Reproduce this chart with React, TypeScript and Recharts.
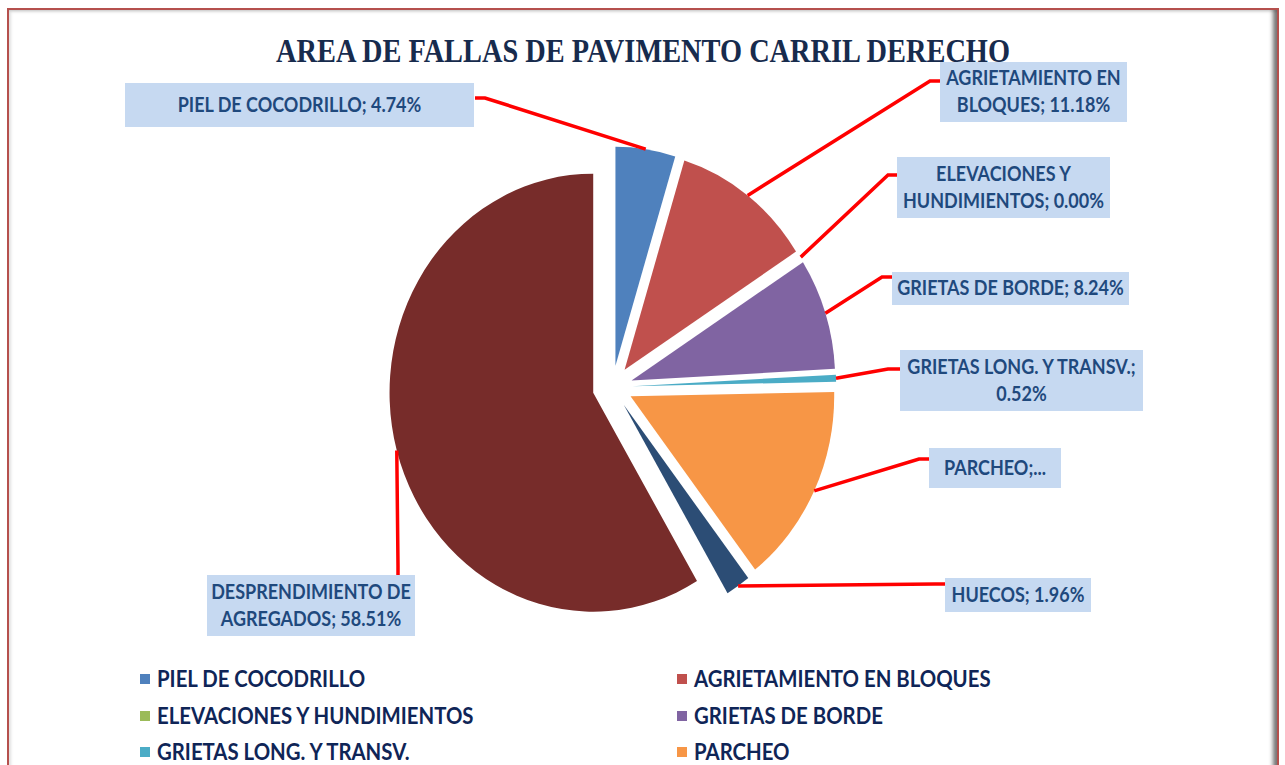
import React from 'react';
import { PieChart, Pie, Cell, Legend, Sector } from 'recharts';

// porcentajes del area de fallas, carril derecho
const CATEGORIES = [
  'PIEL DE COCODRILLO',
  'AGRIETAMIENTO EN BLOQUES',
  'ELEVACIONES Y HUNDIMIENTOS',
  'GRIETAS DE BORDE',
  'GRIETAS LONG. Y TRANSV.',
  'PARCHEO',
  'HUECOS',
  'DESPRENDIMIENTO DE AGREGADOS',
];
const PERCENTS = [4.74, 11.18, 0.0, 8.24, 0.52, 14.85, 1.96, 58.51];
const COLORS = ['#4F81BD', '#C0504D', '#9BBB59', '#8064A2', '#4BACC6', '#F79646', '#2C4D75', '#772C2A'];

const TITLE = 'AREA DE FALLAS DE PAVIMENTO CARRIL DERECHO';

const data = CATEGORIES.map((name, i) => ({ name, value: PERCENTS[i] }));

// the original picture is a little narrower than tall
const SQUEEZE = 0.93;
const TEXT_SQUEEZE = 0.9;
const EXPLODE = 21.5;
const LABEL_FONT = 'Lato, "Open Sans", sans-serif';
const LABEL_COLOR = '#1F497D';
const LINE_COLOR = '#FF0000';

// hand placed label boxes (like the Excel original)
const LABEL_BOXES = [
  { x: 125, y: 83, w: 349, h: 44, maxChars: 30, elbow: [485, 98], end: [475, 98] },
  { x: 940, y: 62, w: 187, h: 60, maxChars: 24, elbow: [930, 81], end: [940, 81] },
  { x: 897, y: 157, w: 213, h: 61, maxChars: 24, elbow: [888, 175], end: [897, 175] },
  { x: 892, y: 272, w: 237, h: 33, maxChars: 24, elbow: [882, 277], end: [892, 277] },
  { x: 900, y: 350, w: 243, h: 61, maxChars: 24, elbow: [888, 369], end: [900, 369] },
  { x: 929, y: 448, w: 132, h: 40, maxChars: 24, truncate: true, elbow: [919, 459], end: [929, 459] },
  { x: 945, y: 578, w: 146, h: 34, maxChars: 24, elbow: [935, 584], end: [945, 584] },
  { x: 207, y: 575, w: 208, h: 61, maxChars: 24, elbow: [398, 566], end: [398, 575] },
];

const wrap = (text: string, max: number) => {
  const lines: string[] = [];
  let cur = '';
  text.split(' ').forEach((w) => {
    if (cur && (cur + ' ' + w).length > max) {
      lines.push(cur);
      cur = w;
    } else {
      cur = cur ? cur + ' ' + w : w;
    }
  });
  if (cur) lines.push(cur);
  return lines;
};

const renderSlice = (props: any) => {
  const { cx, cy, outerRadius, startAngle, endAngle, index, name, percent } = props;
  const mid = (startAngle + endAngle) / 2;
  const rad = (mid * Math.PI) / 180;
  const ox = SQUEEZE * EXPLODE * Math.cos(rad);
  const oy = -EXPLODE * Math.sin(rad);
  const sx = cx + ox + SQUEEZE * outerRadius * Math.cos(rad);
  const sy = cy + oy - outerRadius * Math.sin(rad);
  const box = LABEL_BOXES[index];
  const pct = `${((percent ?? 0) * 100).toFixed(2)}%`;
  const lines = box.truncate ? [`${name};...`] : wrap(`${name}; ${pct}`, box.maxChars);
  const tx = box.x + box.w / 2;
  const lineGap = 27;
  const firstCenter = box.y + box.h / 2 - ((lines.length - 1) * lineGap) / 2;

  return (
    <g key={`slice-${index}`}>
      <g transform={`translate(${cx + ox} ${cy + oy}) scale(${SQUEEZE} 1) translate(${-cx} ${-cy})`}>
        <Sector
          cx={cx}
          cy={cy}
          innerRadius={0}
          outerRadius={outerRadius}
          startAngle={startAngle}
          endAngle={endAngle}
          fill={COLORS[index]}
          stroke="none"
        />
      </g>
      <polyline
        points={`${sx},${sy} ${box.elbow[0]},${box.elbow[1]} ${box.end[0]},${box.end[1]}`}
        fill="none"
        stroke={LINE_COLOR}
        strokeWidth={3.5}
      />
      <rect x={box.x} y={box.y} width={box.w} height={box.h} fill="#C6D9F1" />
      {lines.map((line, li) => (
        <text
          key={li}
          x={tx}
          y={firstCenter + li * lineGap + 7}
          textAnchor="middle"
          transform={`translate(${tx} 0) scale(${TEXT_SQUEEZE} 1) translate(${-tx} 0)`}
          fontFamily={LABEL_FONT}
          fontWeight={700}
          fontSize={20}
          fill={LABEL_COLOR}
        >
          {line}
        </text>
      ))}
    </g>
  );
};

const renderLegend = ({ payload }: any) => {
  const items = [...(payload || [])].sort(
    (a: any, b: any) => CATEGORIES.indexOf(a.value) - CATEGORIES.indexOf(b.value),
  );
  return (
    <div style={{ position: 'relative', width: 1285, height: 150 }}>
      {items.map((item: any, i: number) => {
        const ci = CATEGORIES.indexOf(item.value);
        return (
          <div
            key={`legend-${i}`}
            style={{
              position: 'absolute',
              left: i % 2 ? 677 : 140,
              top: Math.floor(i / 2) * 36.6,
              height: 20,
              display: 'flex',
              alignItems: 'center',
              whiteSpace: 'nowrap',
            }}
          >
            <span style={{ width: 10, height: 10, background: ci >= 0 ? COLORS[ci] : item.color, marginRight: 7 }} />
            <span
              style={{
                fontFamily: LABEL_FONT,
                fontWeight: 700,
                fontSize: 22,
                lineHeight: '20px',
                color: '#0F2557',
                transform: 'scaleX(0.925)',
                transformOrigin: 'left center',
                display: 'inline-block',
              }}
            >
              {item.value}
            </span>
          </div>
        );
      })}
    </div>
  );
};

export default function App() {
  return (
    <div style={{ position: 'absolute', left: 0, top: 0, width: 1285, height: 765, overflow: 'hidden', background: '#fff' }}>
      <div
        style={{
          position: 'absolute',
          left: 7,
          top: 8,
          width: 1268,
          height: 820,
          border: '2px solid #B5504D',
          boxShadow: 'inset -6px 0 4px -2px rgba(0,0,0,0.55), inset 3px 3px 3px -1px rgba(0,0,0,0.12)',
        }}
      />
      <svg width={1285} height={90} style={{ position: 'absolute', left: 0, top: 0 }}>
        <text
          x={643}
          y={62}
          textAnchor="middle"
          textLength={734}
          lengthAdjust="spacingAndGlyphs"
          fontFamily='"Liberation Serif", "DejaVu Serif", serif'
          fontWeight={700}
          fontSize={33}
          fill="#172B4D"
        >
          {TITLE}
        </text>
      </svg>
      <PieChart width={1285} height={765} margin={{ top: 0, right: 0, bottom: 0, left: 0 }} style={{ position: 'absolute', left: 0, top: 0 }}>
        <Pie
          data={data}
          dataKey="value"
          nameKey="name"
          cx={612.5}
          cy={387}
          outerRadius={219}
          startAngle={90}
          endAngle={-270}
          stroke="none"
          label={renderSlice}
          labelLine={false}
          isAnimationActive={false}
        >
          {data.map((_, i) => (
            <Cell key={`cell-${i}`} fill={COLORS[i]} fillOpacity={0} />
          ))}
        </Pie>
        <Legend content={renderLegend} wrapperStyle={{ position: 'absolute', left: 0, top: 669, width: 1285, height: 150 }} />
      </PieChart>
    </div>
  );
}
